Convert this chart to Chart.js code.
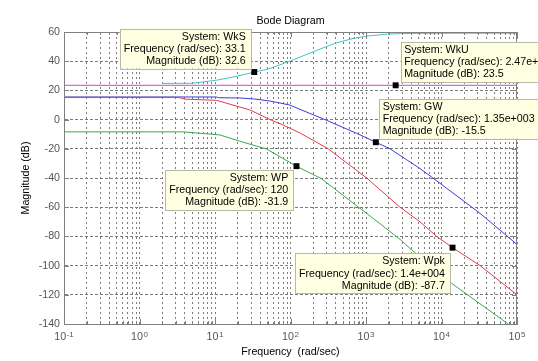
<!DOCTYPE html>
<html><head><meta charset="utf-8">
<script src="https://cdn.jsdelivr.net/npm/chart.js@4"></script>
<style>html,body{margin:0;padding:0;background:#fff;}canvas{display:block;}</style>
</head><body>
<canvas id="c" width="538" height="361"></canvas>
<script>
// ---- text ----
const titleText = 'Bode Diagram';
const xLabel = 'Frequency  (rad/sec)';
const yLabel = 'Magnitude (dB)';
const yTickValues = [-140, -120, -100, -80, -60, -40, -20, 0, 20, 40, 60];
const xTickExponents = [-1, 0, 1, 2, 3, 4, 5];

// ---- series (frequency rad/sec, magnitude dB) ----
const wksFreq = [2, 5, 10.5, 20, 33.1, 50, 100, 138, 200, 385, 700, 1070, 2000, 2900, 5000, 100000];
const wksMag  = [24.8, 24.9, 27.0, 29.8, 32.6, 34.5, 40.2, 43.1, 46.5, 52.2, 55.8, 57.3, 58.6, 58.9, 59.1, 59.2];

const wkuFreq = [0.1, 100000];
const wkuMag  = [23.5, 23.5];

const gwFreq = [0.1, 10.5, 11, 21.4, 35, 53.5, 98, 134, 286, 753, 1350, 2080, 3460, 5190, 9550, 32400, 100000];
const gwMag  = [15.5, 15.5, 15.0, 14.8, 14.0, 12.7, 10.0, 7.0, 0, -9.4, -15.5, -20, -27.5, -33.5, -43.6, -64.2, -85.5];

const wpkFreq = [0.1, 3.3, 4, 10.5, 29, 53.5, 80, 134, 316, 1020, 2820, 5190, 8630, 14000, 32400, 100000];
const wpkMag  = [15.2, 15.2, 14.0, 13.2, 6.6, 0, -3.7, -9.2, -20, -40, -60, -70, -80, -87.7, -100, -120];

const wpFreq = [0.1, 3.8, 11.6, 21, 48, 120, 257, 795, 1070, 2820, 3980, 13500, 74000, 100000];
const wpMag  = [-8.4, -8.4, -10.5, -14.7, -20.1, -31.9, -40.5, -60, -65, -82, -89, -112, -139.5, -145];

// ---- data tips ----
const tipSystems  = ['WkS', 'WkU', 'GW', 'WP', 'Wpk'];
const tipFreqs    = [33.1, 2470, 1350, 120, 14000];
const tipMags     = [32.6, 23.5, -15.5, -31.9, -87.7];
const tipFreqText = ['33.1', '2.47e+003', '1.35e+003', '120', '1.4e+004'];
const tipMagText  = ['32.6', '23.5', '-15.5', '-31.9', '-87.7'];

// ---- grid positions on log axis ----
const xGridValues = [];
for (let e = -1; e < 5; e++) for (let m = 1; m <= 9; m++) xGridValues.push(+(m * Math.pow(10, e)).toPrecision(3));
xGridValues.push(100000);

const FONT = "'Liberation Sans', Arial, Helvetica, sans-serif";
const FS = 10.67;
const pts = (f, m) => f.map((v, i) => ({x: v, y: m[i]}));
const lineDs = (label, f, m, color) => ({label, data: pts(f, m), borderColor: color, borderWidth: 1,
  pointRadius: 0, fill: false, tension: 0, order: 2});

// tip box layout (relative to marker)
const tipLayout = [
  {align: 'right', dx: -3.5, dy: -43.5},
  {align: 'left',  dx: 5,    dy: -43.5},
  {align: 'left',  dx: 3.3,  dy: -43.5},
  {align: 'right', dx: -3.2, dy: 3.5},
  {align: 'right', dx: -2.6, dy: 5.5}
];

const decor = {
  id: 'decor',
  afterDraw(chart) {
    const ctx = chart.ctx, xs = chart.scales.x, ys = chart.scales.y, a = chart.chartArea;
    ctx.save();
    // axes box
    ctx.strokeStyle = '#808080';
    ctx.lineWidth = 1;
    ctx.strokeRect(Math.round(a.left) + 0.5, Math.round(a.top) + 0.5, Math.round(a.right - a.left) - 1, Math.round(a.bottom - a.top));
    // inside tick marks
    ctx.beginPath();
    yTickValues.forEach(v => {
      const y = Math.round(ys.getPixelForValue(v)) + 0.5;
      ctx.moveTo(a.left, y); ctx.lineTo(a.left + 5, y);
      ctx.moveTo(a.right, y); ctx.lineTo(a.right - 5, y);
    });
    xGridValues.forEach(v => {
      const major = Math.abs(Math.log10(v) - Math.round(Math.log10(v))) < 1e-9;
      const len = major ? 5 : 3;
      const x = Math.round(xs.getPixelForValue(v)) + 0.5;
      ctx.moveTo(x, a.bottom); ctx.lineTo(x, a.bottom - len);
      ctx.moveTo(x, a.top); ctx.lineTo(x, a.top + len);
    });
    ctx.stroke();
    // x tick labels 10^e
    ctx.fillStyle = '#555';
    ctx.textAlign = 'left';
    ctx.textBaseline = 'alphabetic';
    xTickExponents.forEach(e => {
      const px = xs.getPixelForValue(Math.pow(10, e));
      ctx.font = FS + 'px ' + FONT;
      const bw = ctx.measureText('10').width;
      ctx.font = '8px ' + FONT;
      const ew = ctx.measureText(String(e)).width;
      const x0 = px - (bw + ew + 0.5) / 2;
      ctx.font = FS + 'px ' + FONT;
      ctx.fillText('10', x0, a.bottom + 16);
      ctx.font = '8px ' + FONT;
      ctx.fillText(String(e), x0 + bw + 0.5, a.bottom + 12.5);
    });
    // data tip boxes
    ctx.font = FS + 'px ' + FONT;
    tipSystems.forEach((s, i) => {
      const mx = xs.getPixelForValue(tipFreqs[i]), my = ys.getPixelForValue(tipMags[i]);
      const lines = ['System: ' + s, 'Frequency (rad/sec): ' + tipFreqText[i], 'Magnitude (dB): ' + tipMagText[i]];
      const w = Math.max(...lines.map(t => ctx.measureText(t).width)) + 9;
      const h = 40;
      const L = tipLayout[i];
      const left = L.align === 'right' ? mx + L.dx - w : mx + L.dx;
      const top = my + L.dy;
      ctx.fillStyle = '#ffffe1';
      ctx.fillRect(left, top, w, h);
      ctx.strokeStyle = '#b9b9a8';
      ctx.lineWidth = 1;
      ctx.strokeRect(Math.round(left) + 0.5, Math.round(top) + 0.5, Math.round(w), Math.round(h));
      ctx.fillStyle = '#000';
      ctx.textBaseline = 'middle';
      ctx.textAlign = L.align;
      const tx = L.align === 'right' ? left + w - 5 : left + 3.5;
      lines.forEach((t, k) => ctx.fillText(t, tx, top + 8.3 + k * 12.2));
    });
    ctx.restore();
  }
};

new Chart(document.getElementById('c'), {
  type: 'line',
  data: {
    datasets: [
      {label: 'tips', data: pts(tipFreqs, tipMags), showLine: false, pointStyle: 'rect', pointRadius: 4.2,
       pointBackgroundColor: '#000', pointBorderWidth: 0, pointBorderColor: '#000', order: 0},
      lineDs('WkU', wkuFreq, wkuMag, '#d840dc'),
      lineDs('WkS', wksFreq, wksMag, '#3fc4c4'),
      lineDs('Wpk', wpkFreq, wpkMag, '#e43a4c'),
      lineDs('GW', gwFreq, gwMag, '#3c3cd8'),
      lineDs('WP', wpFreq, wpMag, '#3aa84a')
    ]
  },
  options: {
    responsive: false,
    animation: false,
    events: [],
    layout: {padding: {left: 0, right: 21, top: 0, bottom: 0}},
    plugins: {
      legend: {display: false},
      tooltip: {enabled: false},
      title: {display: true, text: titleText, fullSize: false, color: '#000',
        font: {family: FONT, size: FS, weight: 'normal'}, padding: {top: 14.6, bottom: 4.6}}
    },
    scales: {
      x: {
        type: 'logarithmic', min: 0.1, max: 100000,
        afterBuildTicks: s => { s.ticks = xGridValues.map(v => ({value: v})); },
        afterFit: s => { s.height = 37; },
        ticks: {display: false, autoSkip: false},
        grid: {color: '#7c7c7c', lineWidth: 1, drawTicks: false},
        border: {display: true, color: '#808080', width: 1, dash: [2, 3]},
        title: {display: true, text: xLabel, color: '#000', font: {family: FONT, size: FS}, padding: {top: 0, bottom: 2.5}}
      },
      y: {
        type: 'linear', min: -140, max: 60,
        afterBuildTicks: s => { s.ticks = yTickValues.map(v => ({value: v})); },
        afterFit: s => { s.width = 64; },
        ticks: {color: '#555', font: {family: FONT, size: FS}, padding: 4, autoSkip: false},
        grid: {color: '#7c7c7c', lineWidth: 1, drawTicks: false},
        border: {display: true, color: '#808080', width: 1, dash: [3, 2]},
        title: {display: true, text: yLabel, color: '#000', font: {family: FONT, size: FS}, padding: {top: 19.4, bottom: 0}}
      }
    }
  },
  plugins: [decor]
});
</script>
</body></html>
